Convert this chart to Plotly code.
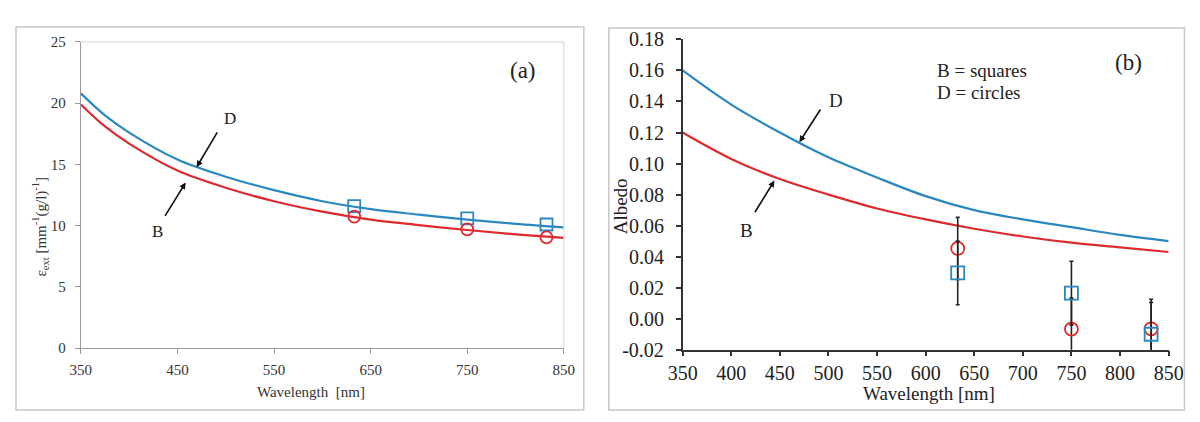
import plotly.graph_objects as go

# ---------------- data ----------------
# Panel (a): extinction coefficient curves
wl_curve_a = [350, 375, 400, 450, 500, 550, 600, 650, 700, 750, 800, 850]
ext_D = [20.8, 19.0, 17.6, 15.4, 14.0, 12.9, 12.0, 11.35, 10.9, 10.5, 10.15, 9.86]
ext_B = [19.9, 18.1, 16.7, 14.5, 13.1, 12.0, 11.15, 10.5, 10.05, 9.65, 9.3, 9.0]
wl_meas = [633, 750, 832]
ext_sq = [11.6, 10.6, 10.1]
ext_ci = [10.75, 9.7, 9.05]

# Panel (b): albedo curves
wl_curve_b = [350, 400, 450, 500, 550, 600, 650, 700, 750, 800, 850]
alb_D = [0.160, 0.138, 0.120, 0.104, 0.091, 0.079, 0.070, 0.064, 0.059, 0.054, 0.050]
alb_B = [0.120, 0.103, 0.090, 0.080, 0.071, 0.064, 0.058, 0.053, 0.049, 0.046, 0.043]
alb_ci = [0.0453, -0.0067, -0.0065]
alb_ci_err = [0.020, 0.020, 0.019]
alb_sq = [0.0295, 0.0165, -0.0100]
alb_sq_err = [0.0205, 0.0205, 0.0205]

xticks_a = [350, 450, 550, 650, 750, 850]
yticks_a = [0, 5, 10, 15, 20, 25]
xticks_b = [350, 400, 450, 500, 550, 600, 650, 700, 750, 800, 850]
yticks_b = [-0.02, 0.00, 0.02, 0.04, 0.06, 0.08, 0.10, 0.12, 0.14, 0.16, 0.18]
yticklabels_b = ["-0.02", "0.00", "0.02", "0.04", "0.06", "0.08", "0.10", "0.12", "0.14", "0.16", "0.18"]

BLUE = "#2b87bf"
RED = "#de2a2e"
FONT = "Liberation Serif"
W, H = 1200, 422

# picture-space -> figure-space compensation
OX, OY, SX, SY = 14.0, 10.0, 0.977, 0.95

def fx(X):
    return (X - OX) / SX

def fy(Y):
    return (Y - OY) / SY

def px(X):
    return min(fx(X) / W, 0.9995)

def py(Y):
    return max(1 - fy(Y) / H, 0.0005)

# axis pixel frames (picture space)
A_X0, A_X1, A_Y0, A_Y1 = 80, 564, 348, 41
B_X0, B_X1, B_Y0, B_Y1 = 683, 1170, 349.5, 38.5

def a_data(X, Y):
    return 350 + (X - A_X0) / (A_X1 - A_X0) * 500, (A_Y0 - Y) / (A_Y0 - A_Y1) * 25

def b_data(X, Y):
    return 350 + (X - B_X0) / (B_X1 - B_X0) * 500, -0.02 + (B_Y0 - Y) / (B_Y0 - B_Y1) * 0.2

fig = go.Figure()

# ----- panel (a) -----
fig.add_trace(go.Scatter(x=wl_curve_a, y=ext_D, mode="lines", line=dict(color=BLUE, width=2.2, shape="spline"),
                         xaxis="x", yaxis="y", showlegend=False))
fig.add_trace(go.Scatter(x=wl_curve_a, y=ext_B, mode="lines", line=dict(color=RED, width=2.2, shape="spline"),
                         xaxis="x", yaxis="y", showlegend=False))
fig.add_trace(go.Scatter(x=wl_meas, y=ext_sq, mode="markers",
                         marker=dict(symbol="square-open", size=12, color=BLUE, line=dict(width=1.8, color=BLUE)),
                         xaxis="x", yaxis="y", showlegend=False))
fig.add_trace(go.Scatter(x=wl_meas, y=ext_ci, mode="markers",
                         marker=dict(symbol="circle-open", size=12, color=RED, line=dict(width=1.8, color=RED)),
                         xaxis="x", yaxis="y", showlegend=False))

# ----- panel (b) -----
fig.add_trace(go.Scatter(x=wl_curve_b, y=alb_D, mode="lines", line=dict(color=BLUE, width=2.2, shape="spline"),
                         xaxis="x2", yaxis="y2", showlegend=False))
fig.add_trace(go.Scatter(x=wl_curve_b, y=alb_B, mode="lines", line=dict(color=RED, width=2.2, shape="spline"),
                         xaxis="x2", yaxis="y2", showlegend=False))
fig.add_trace(go.Scatter(x=wl_meas, y=alb_ci, mode="markers",
                         error_y=dict(type="data", array=alb_ci_err, color="#222", thickness=1.6, width=2),
                         marker=dict(symbol="circle-open", size=13, color=RED, line=dict(width=1.8, color=RED)),
                         xaxis="x2", yaxis="y2", showlegend=False))
fig.add_trace(go.Scatter(x=wl_meas, y=alb_sq, mode="markers",
                         error_y=dict(type="data", array=alb_sq_err, color="#222", thickness=1.6, width=2),
                         marker=dict(symbol="square-open", size=13, color=BLUE, line=dict(width=1.8, color=BLUE)),
                         xaxis="x2", yaxis="y2", showlegend=False))

ax_a = dict(showgrid=False, zeroline=False, showline=True, linecolor="#9a9a9a", linewidth=1,
            ticks="outside", ticklen=5, tickcolor="#9a9a9a",
            tickfont=dict(family=FONT, size=15, color="#333"))
ax_b = dict(showgrid=False, zeroline=False, showline=True, linecolor="#333", linewidth=1.5,
            ticks="outside", ticklen=5, tickcolor="#333", tickwidth=1.5,
            tickfont=dict(family=FONT, size=20, color="#222"))

fig.update_layout(
    width=W, height=H, margin=dict(l=0, r=0, t=0, b=0),
    paper_bgcolor="white", plot_bgcolor="white",
    xaxis=dict(domain=[px(A_X0), px(A_X1)], range=[350, 850], tickvals=xticks_a, anchor="y",
               ticklabelstandoff=3, **ax_a),
    yaxis=dict(domain=[py(A_Y0), py(A_Y1)], range=[0, 25], tickvals=yticks_a, anchor="x",
               ticklabelstandoff=6, **ax_a),
    xaxis2=dict(domain=[px(B_X0), px(B_X1)], range=[350, 850], tickvals=xticks_b, anchor="y2",
                ticklabelstandoff=0, **ax_b),
    yaxis2=dict(domain=[py(B_Y0), py(B_Y1)], range=[-0.02, 0.18], tickvals=yticks_b, ticktext=yticklabels_b,
                anchor="x2", ticklabelstandoff=8, **ax_b),
)

shapes = [
    # outer frames
    dict(type="rect", xref="paper", yref="paper", x0=px(15), x1=px(584), y0=py(410), y1=py(26),
         line=dict(color="#c8c8c8", width=1.5)),
    dict(type="rect", xref="paper", yref="paper", x0=px(609), x1=px(1189), y0=py(410), y1=py(27),
         line=dict(color="#c8c8c8", width=1.5)),
    # panel (a) light top and right plot borders
    dict(type="line", xref="x domain", yref="y domain", x0=0, x1=1, y0=1, y1=1,
         line=dict(color="#d4d4d4", width=1)),
    dict(type="line", xref="x domain", yref="y domain", x0=1, x1=1, y0=0, y1=1,
         line=dict(color="#d4d4d4", width=1)),
]
fig.update_layout(shapes=shapes)

ann = []
txt = dict(family=FONT, color="#222")
txt_a = dict(family=FONT, color="#333")

def label(X, Y, text, size, font=txt, xanchor="center", **kw):
    ann.append(dict(x=px(X), y=py(Y), xref="paper", yref="paper", text=text, showarrow=False,
                    xanchor=xanchor, yanchor="middle",
                    font=dict(size=size, **font), **kw))

def arrow(tail, tip, axis):
    conv = a_data if axis == "a" else b_data
    xr, yr = ("x", "y") if axis == "a" else ("x2", "y2")
    tx, ty = conv(*tip)
    ann.append(dict(x=tx, y=ty, xref=xr, yref=yr,
                    ax=(tail[0] - tip[0]) / SX, ay=(tail[1] - tip[1]) / SY,
                    text="", showarrow=True, arrowhead=2, arrowsize=0.8, arrowwidth=1.6,
                    arrowcolor="#111"))

# panel (a)
label(523, 70, "(a)", 23)
label(229, 118, "D", 17)
label(157, 231, "B", 17)
arrow((217, 132), (196, 166.5), "a")
arrow((164, 215), (185, 182), "a")
label(311, 392, "Wavelength  [nm]", 15, font=txt_a)
label(39, 226, "ε<sub>ext</sub> [mm<sup>-1</sup>(g/l)<sup>-1</sup>]", 15, font=txt_a, textangle=-90)

# panel (b)
label(1130, 62, "(b)", 23)
label(936, 70, "B = squares", 19, xanchor="left")
label(936, 92, "D = circles", 19, xanchor="left")
label(837, 100, "D", 19)
label(747, 230, "B", 19)
arrow((821.5, 109), (800, 141.5), "b")
arrow((755, 211.5), (775, 180), "b")
label(930, 393, "Wavelength [nm]", 19)
label(621, 206, "Albedo", 19, textangle=-90)

fig.update_layout(annotations=ann)

fig.write_html("out.html", config={"displayModeBar": False},
               post_script="document.body.style.margin='0';document.body.style.padding='0';"
                           "document.body.style.overflow='hidden';")
